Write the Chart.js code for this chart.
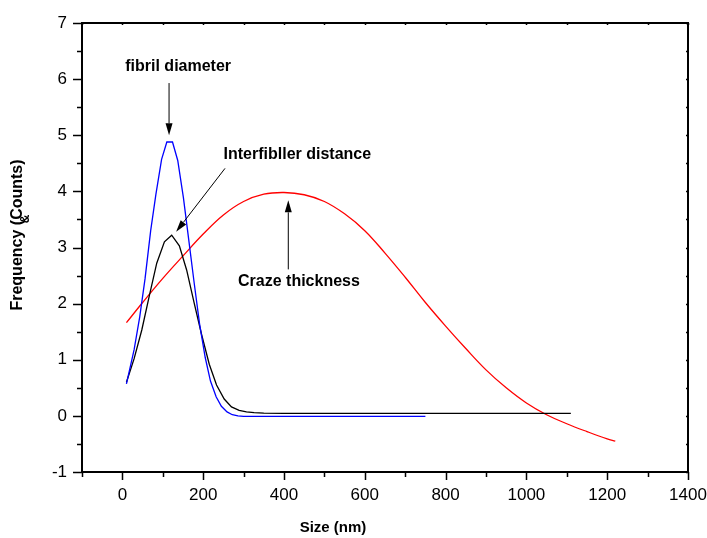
<!doctype html>
<html lang="en">
  <head>
    <meta charset="utf-8">
    <title>Fibril, interfibril and craze size distributions</title>
    <style>
      html, body { margin: 0; padding: 0; background: #fff; }
      #wrap { width: 707px; height: 538px; }
    </style>
  </head>
  <body>
    <div id="wrap"><canvas id="chart" width="707" height="538"></canvas></div>
  </body>
</html>
<script src="https://cdn.jsdelivr.net/npm/chart.js"></script>
<script>
// fibril diameter (blue)
const fibrilX = [10, 29, 43, 56, 70, 83, 97, 110, 124, 137, 151, 164, 178, 191, 205, 218, 232, 245, 259, 272, 286, 300, 350, 450, 550, 650, 750];
const fibrilY = [0.57, 1.18, 1.77, 2.44, 3.3, 3.95, 4.57, 4.88, 4.88, 4.55, 3.89, 3.15, 2.35, 1.64, 1.04, 0.62, 0.34, 0.17, 0.07, 0.02, 0.0, -0.01, -0.01, -0.01, -0.01, -0.01, -0.01];

// interfibril distance (black)
const interX = [10, 29, 48, 67, 85, 104, 122, 141, 159, 178, 196, 215, 233, 252, 270, 289, 307, 326, 350, 400, 500, 600, 700, 800, 900, 1000, 1110];
const interY = [0.6, 1.02, 1.53, 2.15, 2.72, 3.1, 3.22, 3.03, 2.6, 2.0, 1.45, 0.92, 0.55, 0.3, 0.16, 0.1, 0.07, 0.057, 0.05, 0.045, 0.045, 0.045, 0.045, 0.045, 0.045, 0.045, 0.045];

// craze thickness (red)
const crazeX = [10, 50, 100, 150, 200, 250, 300, 350, 400, 450, 500, 550, 600, 650, 700, 750, 800, 850, 900, 950, 1000, 1050, 1100, 1150, 1200, 1220];
const crazeY = [1.66, 2.02, 2.45, 2.85, 3.24, 3.58, 3.82, 3.95, 3.98, 3.94, 3.82, 3.6, 3.3, 2.9, 2.47, 2.02, 1.6, 1.2, 0.82, 0.5, 0.23, 0.02, -0.14, -0.28, -0.41, -0.45];

const xTicks = [0, 200, 400, 600, 800, 1000, 1200, 1400];
const yTicks = [-1, 0, 1, 2, 3, 4, 5, 6, 7];

const FONT = "'Liberation Sans', Arial, sans-serif";

const toPoints = (xs, ys) => xs.map((x, i) => ({ x: x, y: ys[i] }));

// text labels with arrows, placed in data units
const notes = [
  { text: 'fibril diameter', x: 138, y: 6.22, from: [115.5, 5.93], to: [115.5, 5.0] },
  { text: 'Interfibller distance', x: 433, y: 4.66, from: [254, 4.41], to: [133, 3.28] },
  { text: 'Craze thickness', x: 437, y: 2.39, from: [410.6, 2.61], to: [410.6, 3.84] }
];

function arrow(ctx, x1, y1, x2, y2) {
  const ang = Math.atan2(y2 - y1, x2 - x1);
  const len = 12, half = 3.5;
  const bx = x2 - len * Math.cos(ang), by = y2 - len * Math.sin(ang);
  ctx.beginPath();
  ctx.moveTo(x1, y1);
  ctx.lineTo(bx, by);
  ctx.stroke();
  ctx.beginPath();
  ctx.moveTo(x2, y2);
  ctx.lineTo(bx + half * Math.sin(ang), by - half * Math.cos(ang));
  ctx.lineTo(bx - half * Math.sin(ang), by + half * Math.cos(ang));
  ctx.closePath();
  ctx.fill();
}

const frame = {
  id: 'frame',
  afterDraw(chart) {
    const { ctx, chartArea: { left, right, top, bottom }, scales: { x, y } } = chart;
    ctx.save();
    ctx.strokeStyle = '#000';
    ctx.fillStyle = '#000';

    // box
    ctx.lineWidth = 2;
    ctx.strokeRect(left, top, right - left, bottom - top);

    // ticks: outward on left/bottom, small inward on top/right
    ctx.lineWidth = 1.5;
    ctx.beginPath();
    for (let v = -100; v <= 1400; v += 100) {
      const px = Math.round(x.getPixelForValue(v)) + 0.5;
      const major = v % 200 === 0;
      ctx.moveTo(px, bottom);
      ctx.lineTo(px, bottom + (major ? 8 : 5));
      ctx.moveTo(px, top);
      ctx.lineTo(px, top + 2);
    }
    for (let v = -1; v <= 7; v += 0.5) {
      const py = Math.round(y.getPixelForValue(v)) + 0.5;
      const major = Number.isInteger(v);
      ctx.moveTo(left, py);
      ctx.lineTo(left - (major ? 9 : 5), py);
      ctx.moveTo(right, py);
      ctx.lineTo(right - 2, py);
    }
    ctx.stroke();

    // axis titles
    ctx.font = 'bold 15px ' + FONT;
    ctx.textAlign = 'center';
    ctx.textBaseline = 'middle';
    ctx.fillText('Size (nm)', (left + right) / 2 - 52, 528);
    ctx.save();
    ctx.translate(18, 235);
    ctx.rotate(-Math.PI / 2);
    ctx.font = 'bold 16px ' + FONT;
    ctx.fillText('Frequency (Counts)', 0, 0);
    ctx.restore();
    ctx.save();
    ctx.translate(26, 219);
    ctx.rotate(-Math.PI / 2);
    ctx.font = 'bold 12px ' + FONT;
    ctx.fillText('&', 0, 0);
    ctx.restore();

    // notes
    ctx.lineWidth = 1;
    ctx.font = 'bold 16px ' + FONT;
    notes.forEach(n => {
      ctx.fillText(n.text, x.getPixelForValue(n.x), y.getPixelForValue(n.y));
      arrow(ctx,
        x.getPixelForValue(n.from[0]), y.getPixelForValue(n.from[1]),
        x.getPixelForValue(n.to[0]), y.getPixelForValue(n.to[1]));
    });
    ctx.restore();
  }
};

const lineSet = (data, color, tension) => ({
  data: data,
  borderColor: color,
  borderWidth: 1.3,
  pointRadius: 0,
  tension: tension,
  fill: false,
  showLine: true
});

new Chart(document.querySelector('#chart'), {
  type: 'scatter',
  data: {
    datasets: [
      lineSet(toPoints(fibrilX, fibrilY), '#0000ff', 0),
      lineSet(toPoints(interX, interY), '#000000', 0),
      lineSet(toPoints(crazeX, crazeY), '#ff0000', 0.4)
    ]
  },
  options: {
    responsive: false,
    animation: false,
    events: [],
    layout: { padding: { left: 0, right: 19, top: 23, bottom: 0 } },
    plugins: { legend: { display: false }, tooltip: { enabled: false } },
    scales: {
      x: {
        type: 'linear',
        min: -100,
        max: 1400,
        afterBuildTicks: s => { s.ticks = xTicks.map(v => ({ value: v })); },
        afterFit: s => { s.height = 66; s.paddingLeft = 0; s.paddingRight = 0; },
        grid: { display: false, drawTicks: false },
        border: { display: false },
        ticks: { color: '#000', font: { family: FONT, size: 17 }, padding: 13, maxRotation: 0, callback: v => String(v) }
      },
      y: {
        type: 'linear',
        min: -1,
        max: 7,
        afterBuildTicks: s => { s.ticks = yTicks.map(v => ({ value: v })); },
        afterFit: s => { s.width = 82; s.paddingTop = 0; s.paddingBottom = 0; },
        grid: { display: false, drawTicks: false },
        border: { display: false },
        ticks: { color: '#000', font: { family: FONT, size: 17 }, padding: 15, callback: v => String(v) }
      }
    }
  },
  plugins: [frame]
});
</script>
